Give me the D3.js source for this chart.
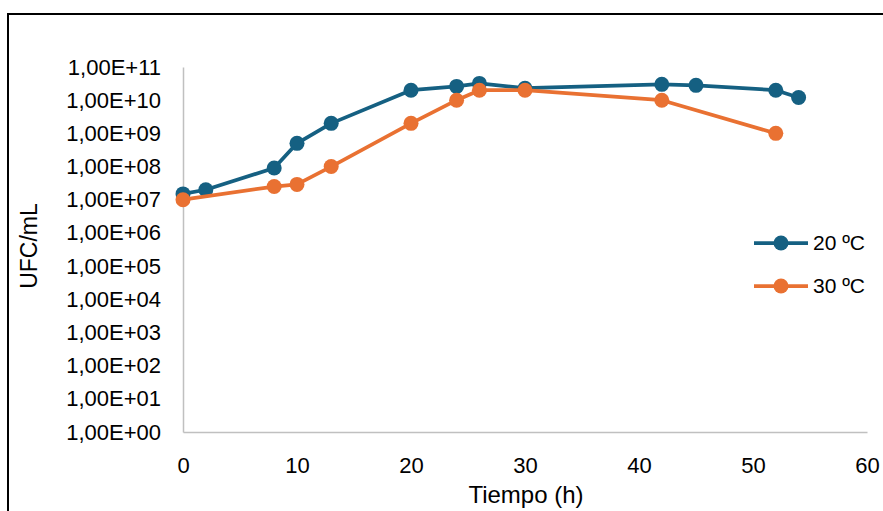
<!DOCTYPE html>
<html>
<head>
<meta charset="utf-8">
<script src="https://cdn.jsdelivr.net/npm/d3@7"></script>
<style>
  body { margin: 0; background: #fff; }
  text { font-family: "Liberation Sans", Arial, sans-serif; fill: #000; }
</style>
</head>
<body>
<div id="chart"></div>
<script>
// Time points (h) and counts (UFC/mL) for each temperature
var time20 = [0, 2, 8, 10, 13, 20, 24, 26, 30, 42, 45, 52, 54];
var ufc20 = [1.5e7, 2e7, 9e7, 5e8, 2e9, 2e10, 2.6e10, 3.2e10, 2.3e10, 3e10, 2.8e10, 2e10, 1.2e10];

var time30 = [0, 8, 10, 13, 20, 24, 26, 30, 42, 52];
var ufc30 = [1e7, 2.5e7, 2.9e7, 1e8, 2e9, 1e10, 2e10, 2e10, 1e10, 1e9];

var seriesNames = ["20 ºC", "30 ºC"];
var seriesColors = ["#156082", "#E97132"];

var xTicks = [0, 10, 20, 30, 40, 50, 60];
var yTicks = [1e0, 1e1, 1e2, 1e3, 1e4, 1e5, 1e6, 1e7, 1e8, 1e9, 1e10, 1e11];

function init() {
    var w = 883;
    var h = 511;

    var svg = d3.select("#chart")
        .append("svg")
        .attr("width", w)
        .attr("height", h);

    // chart frame (runs off the right and bottom edge)
    svg.append("rect")
        .attr("x", 8)
        .attr("y", 14)
        .attr("width", w + 20)
        .attr("height", h + 20)
        .attr("fill", "none")
        .attr("stroke", "#000")
        .attr("stroke-width", 2);

    var xScale = d3.scaleLinear()
        .domain([0, 60])
        .range([183, 867]);

    var yScale = d3.scaleLog()
        .domain([1, 1e11])
        .range([432, 67]);

    // x axis
    var xAxis = d3.axisBottom(xScale)
        .tickValues(xTicks)
        .tickSize(0)
        .tickPadding(25)
        .tickFormat(d3.format("d"));

    var gx = svg.append("g")
        .attr("transform", "translate(0," + yScale(1) + ")")
        .call(xAxis);
    gx.select(".domain").attr("stroke", "#c0c0c0").attr("stroke-width", 1.5);
    gx.selectAll("text").style("font-size", "22px");

    // y axis
    var yAxis = d3.axisLeft(yScale)
        .tickValues(yTicks)
        .tickSize(0)
        .tickPadding(22)
        .tickFormat(function(d) {
            var e = Math.round(Math.log10(d));
            return "1,00E+" + (e < 10 ? "0" + e : e);
        });

    var gy = svg.append("g")
        .attr("transform", "translate(" + xScale(0) + ",0)")
        .call(yAxis);
    gy.select(".domain").attr("stroke", "#c0c0c0").attr("stroke-width", 1.5);
    gy.selectAll("text").style("font-size", "22px");

    // axis titles
    svg.append("text")
        .attr("x", 526)
        .attr("y", 503)
        .attr("text-anchor", "middle")
        .style("font-size", "24px")
        .text("Tiempo (h)");

    svg.append("text")
        .attr("transform", "translate(37,246) rotate(-90)")
        .attr("text-anchor", "middle")
        .style("font-size", "23px")
        .text("UFC/mL");

    var series = [
        { name: seriesNames[0], color: seriesColors[0], values: time20.map(function(t, i) { return { t: t, v: ufc20[i] }; }) },
        { name: seriesNames[1], color: seriesColors[1], values: time30.map(function(t, i) { return { t: t, v: ufc30[i] }; }) }
    ];

    var line = d3.line()
        .x(function(d) { return xScale(d.t); })
        .y(function(d) { return yScale(d.v); });

    series.forEach(function(s) {
        svg.append("path")
            .datum(s.values)
            .attr("d", line)
            .attr("fill", "none")
            .attr("stroke", s.color)
            .attr("stroke-width", 3.75)
            .attr("stroke-linejoin", "round");

        svg.selectAll(null)
            .data(s.values)
            .enter()
            .append("circle")
            .attr("cx", function(d) { return xScale(d.t); })
            .attr("cy", function(d) { return yScale(d.v); })
            .attr("r", 7.5)
            .attr("fill", s.color);
    });

    // legend
    var legend = svg.append("g");
    series.forEach(function(s, i) {
        var ly = 243 + i * 43;
        legend.append("line")
            .attr("x1", 754).attr("x2", 808)
            .attr("y1", ly).attr("y2", ly)
            .attr("stroke", s.color)
            .attr("stroke-width", 3.75);
        legend.append("circle")
            .attr("cx", 781).attr("cy", ly)
            .attr("r", 7.5)
            .attr("fill", s.color);
        legend.append("text")
            .attr("x", 813)
            .attr("y", ly)
            .attr("dy", "0.35em")
            .style("font-size", "21px")
            .text(s.name);
    });
}

window.onload = init;
</script>
</body>
</html>
